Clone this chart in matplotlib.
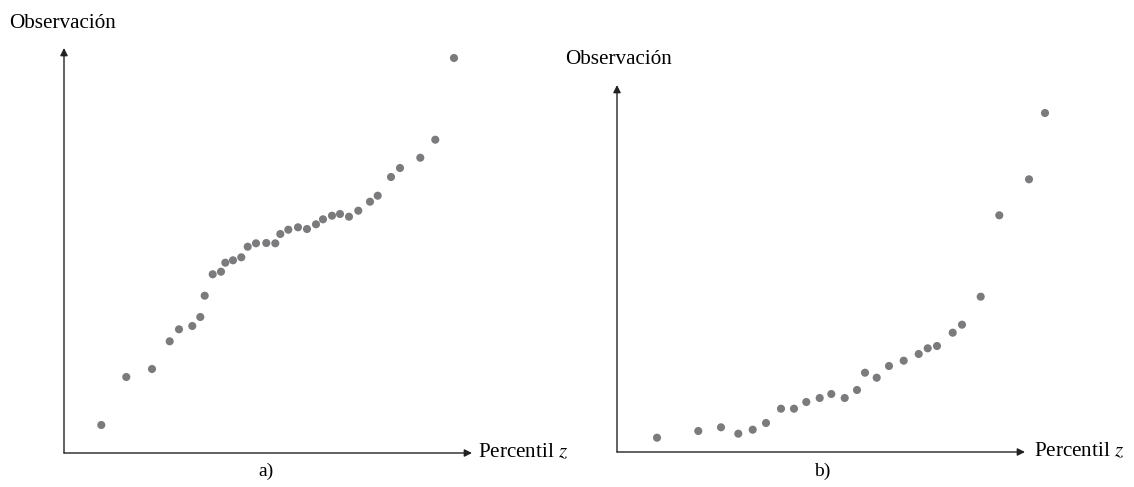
import matplotlib
matplotlib.use("Agg")
import matplotlib.pyplot as plt

# Panel a) data (percentile z position, observation)
xa = [37.3, 62.3, 88, 105.7, 115, 128.3, 136.3, 140.7, 148.7, 157, 161.3, 169, 177.3,
      183.7, 192, 202.3, 211.3, 216.3, 224.3, 234, 243, 252, 259, 268, 276, 285, 294.3,
      306, 313.7, 327, 336, 356.3, 371.3, 390]
ya = [28, 76, 84, 111.7, 123.7, 127, 136, 157.3, 178.7, 181.3, 190.3, 192.7, 195.7,
      206.3, 209.7, 210, 209.7, 219, 223.3, 225.7, 224, 228.7, 233.7, 237.3, 239, 236.3, 242.3,
      251.3, 257.3, 276, 285, 295.3, 313.3, 395]

# Panel b) data
xb = [40, 81.3, 104, 121.3, 135.7, 149, 164, 177, 189.3, 202.7, 214.3, 227.7, 240, 248,
      259.7, 272, 286.7, 301.7, 310.7, 320, 335.7, 345, 363.7, 382.3, 412, 428]
yb = [14.3, 21, 24.7, 18.3, 22.3, 29, 43.3, 43.3, 50, 54, 58, 54, 62, 79.3,
      74.3, 86, 91.3, 98, 103.7, 106, 119.3, 127.3, 155.3, 236.7, 272.7, 339]

W, H = 1134, 487
fig = plt.figure(figsize=(W / 100, H / 100), dpi=100)
font = "Liberation Serif"
dot_color = "#7b7b7d"

def panel(ox, oy, w, h, xs, ys, label, ylab_xy, xlab_x, sub_xy):
    ax = fig.add_axes([ox / W, (H - oy) / H, w / W, h / H])
    ax.set_xlim(0, w)
    ax.set_ylim(0, h)
    ax.axis("off")
    ax.scatter(xs, ys, s=34, color=dot_color, edgecolors="none", clip_on=False, zorder=3)
    ap = dict(arrowstyle="-|>", lw=1.0, color="#222222", mutation_scale=11,
              shrinkA=0, shrinkB=0)
    ax.annotate("", xy=(0, h), xytext=(0, 0), arrowprops=ap, annotation_clip=False)
    ax.annotate("", xy=(w, 0), xytext=(0, 0), arrowprops=ap, annotation_clip=False)
    fig.text(ylab_xy[0] / W, 1 - ylab_xy[1] / H, "Observación", family=font,
             fontsize=15.2, ha="left", va="center")
    fig.text(xlab_x / W, 1 - oy / H, "Percentil $\\it{z}$", family=font,
             fontsize=15.2, ha="left", va="center", math_fontfamily="stix")
    fig.text(sub_xy[0] / W, 1 - sub_xy[1] / H, label, family=font,
             fontsize=14, ha="center", va="center")
    return ax

panel(64, 453, 408, 405, xa, ya, "a)", (9, 23), 478, (266, 471))
panel(617, 452, 408, 367, xb, yb, "b)", (565, 60), 1034, (822, 471))

fig.savefig("out.png", dpi=100)
